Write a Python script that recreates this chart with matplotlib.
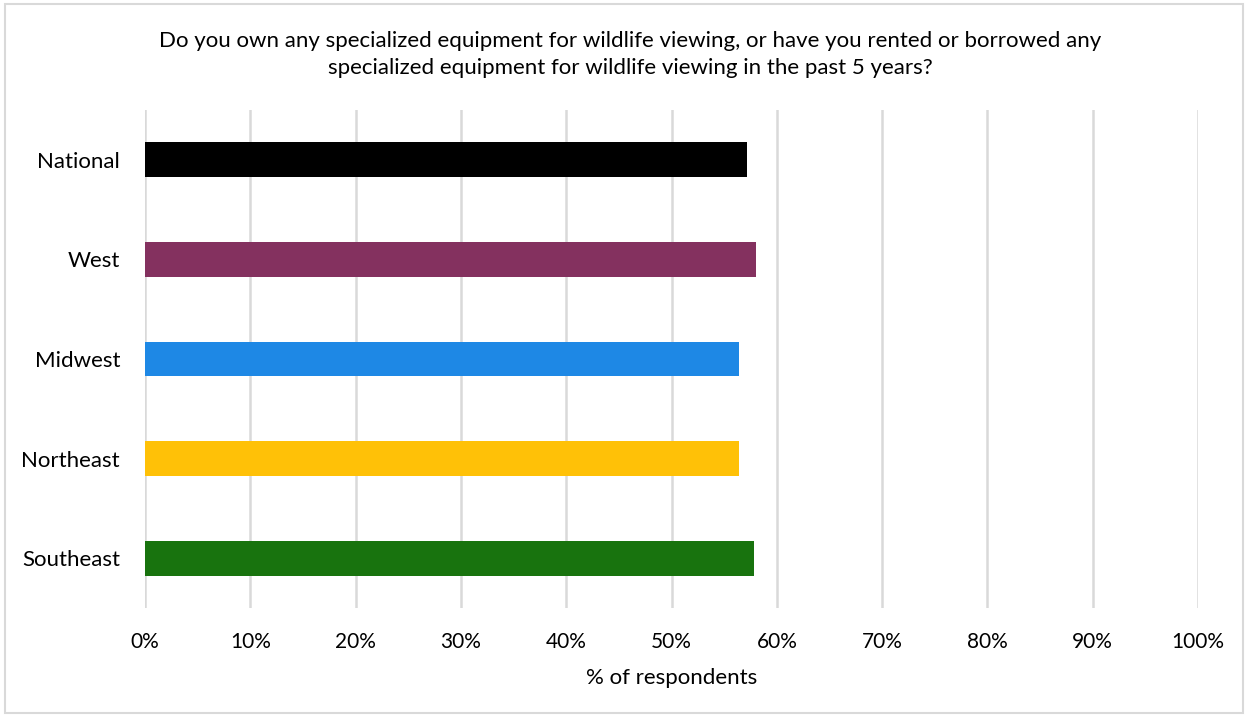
import matplotlib.pyplot as plt
from matplotlib.patches import Rectangle
from matplotlib.ticker import PercentFormatter

regions = ["National", "West", "Midwest", "Northeast", "Southeast"]
share = [57.2, 58.0, 56.4, 56.4, 57.8]
bar_colors = ["#000000", "#84315F", "#1E88E5", "#FFC107", "#18730E"]

title = ("Do you own any specialized equipment for wildlife viewing, or have you rented or borrowed any\n"
         "specialized equipment for wildlife viewing in the past 5 years?")

plt.rcParams['font.family'] = ['Lato', 'DejaVu Sans']

fig = plt.figure(figsize=(12.48, 7.17), dpi=100)
ax = fig.add_axes([0.1162, 0.152, 0.8438, 0.6946])

ypos = list(range(len(regions)))[::-1]
ax.barh(ypos, share, height=0.35, color=bar_colors, zorder=3)

ax.set_xlim(0, 100)
ax.set_ylim(-0.5, len(regions) - 0.5)
ax.set_xticks(range(0, 101, 10))
ax.xaxis.set_major_formatter(PercentFormatter(decimals=0))
ax.set_yticks(ypos)
ax.set_yticklabels(regions)
ax.tick_params(length=0, colors="#000000")
ax.tick_params(axis="x", labelsize=15, pad=17)
ax.tick_params(axis="y", labelsize=16, pad=18)
ax.grid(axis="x", color="#d9d9d9", linewidth=1.8, zorder=0)
for s in ax.spines.values():
    s.set_visible(False)

ax.set_xlabel("% of respondents", fontsize=16, labelpad=12)
fig.text(0.505, 0.924, title, ha="center", va="center", fontsize=16, linespacing=1.4)

# thin frame round the whole chart
fig.patches.append(Rectangle((0.004, 0.006), 0.992, 0.988, transform=fig.transFigure,
                             fill=False, edgecolor="#d9d9d9", linewidth=1.5))

fig.savefig("out.png", dpi=100)
